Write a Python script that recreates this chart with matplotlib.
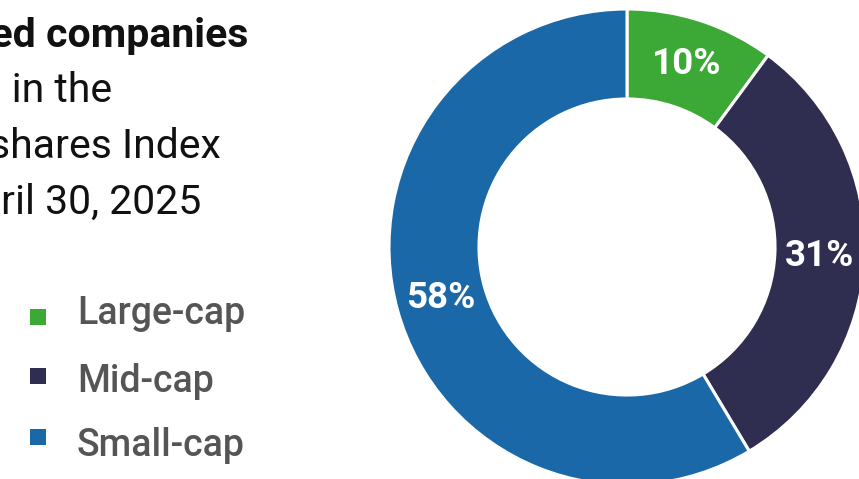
import matplotlib
matplotlib.use("Agg")
import matplotlib.pyplot as plt
from matplotlib.patches import Rectangle

# Data
categories = ["Large-cap", "Mid-cap", "Small-cap"]
shares = [10, 31, 58]
colors = ["#3CA936", "#2F2E50", "#1B68A8"]

title_lines = [
    "Share of listed companies",
    "by market cap in the",
    "All-shares Index",
    "as of April 30, 2025",
]

W, H = 859, 479
DPI = 100
fig = plt.figure(figsize=(W / DPI, H / DPI), dpi=DPI)
fig.patch.set_facecolor("white")

# Donut axes, placed in pixel units
cx, cy, R = 627, 247, 238
ax = fig.add_axes([(cx - R) / W, (H - cy - R) / H, 2 * R / W, 2 * R / H])

wedges, _, autotexts = ax.pie(
    shares,
    colors=colors,
    startangle=90,
    counterclock=False,
    radius=1.0,
    autopct="%d%%",
    pctdistance=0.81,
    wedgeprops=dict(width=0.378, edgecolor="white", linewidth=2.2),
    textprops=dict(color="white", fontsize=26.5, fontweight="bold", family="Roboto"),
)
ax.set_xlim(-1, 1)
ax.set_ylim(-1, 1)
ax.set_aspect("equal")
ax.axis("off")
for w in wedges:
    w.set_clip_on(False)
for t, v in zip(autotexts, shares):
    t.set_text(f"{v}%")

# Title block (left edges run past the canvas)
title_right = [248, 112, 221, 201]
title_base = [47, 102, 158, 214]
for i, (line, xr, yb) in enumerate(zip(title_lines, title_right, title_base)):
    fig.text(
        xr / W, 1 - yb / H, line,
        ha="right", va="baseline",
        fontsize=29.5, family="Roboto",
        fontweight="bold" if i == 0 else "normal",
        color="#111111",
    )

# Legend
sq_top = [309, 368, 429]
txt_base = [324, 392, 456]
for name, c, st, tb in zip(categories, colors, sq_top, txt_base):
    fig.patches.append(
        Rectangle((30 / W, 1 - (st + 16) / H), 16 / W, 16 / H,
                  transform=fig.transFigure, facecolor=c, edgecolor="none")
    )
    fig.text(77 / W, 1 - tb / H, name, ha="left", va="baseline",
             fontsize=27, family="Roboto", fontweight="medium", color="#555555")

fig.savefig("out.png", dpi=DPI, facecolor="white")
